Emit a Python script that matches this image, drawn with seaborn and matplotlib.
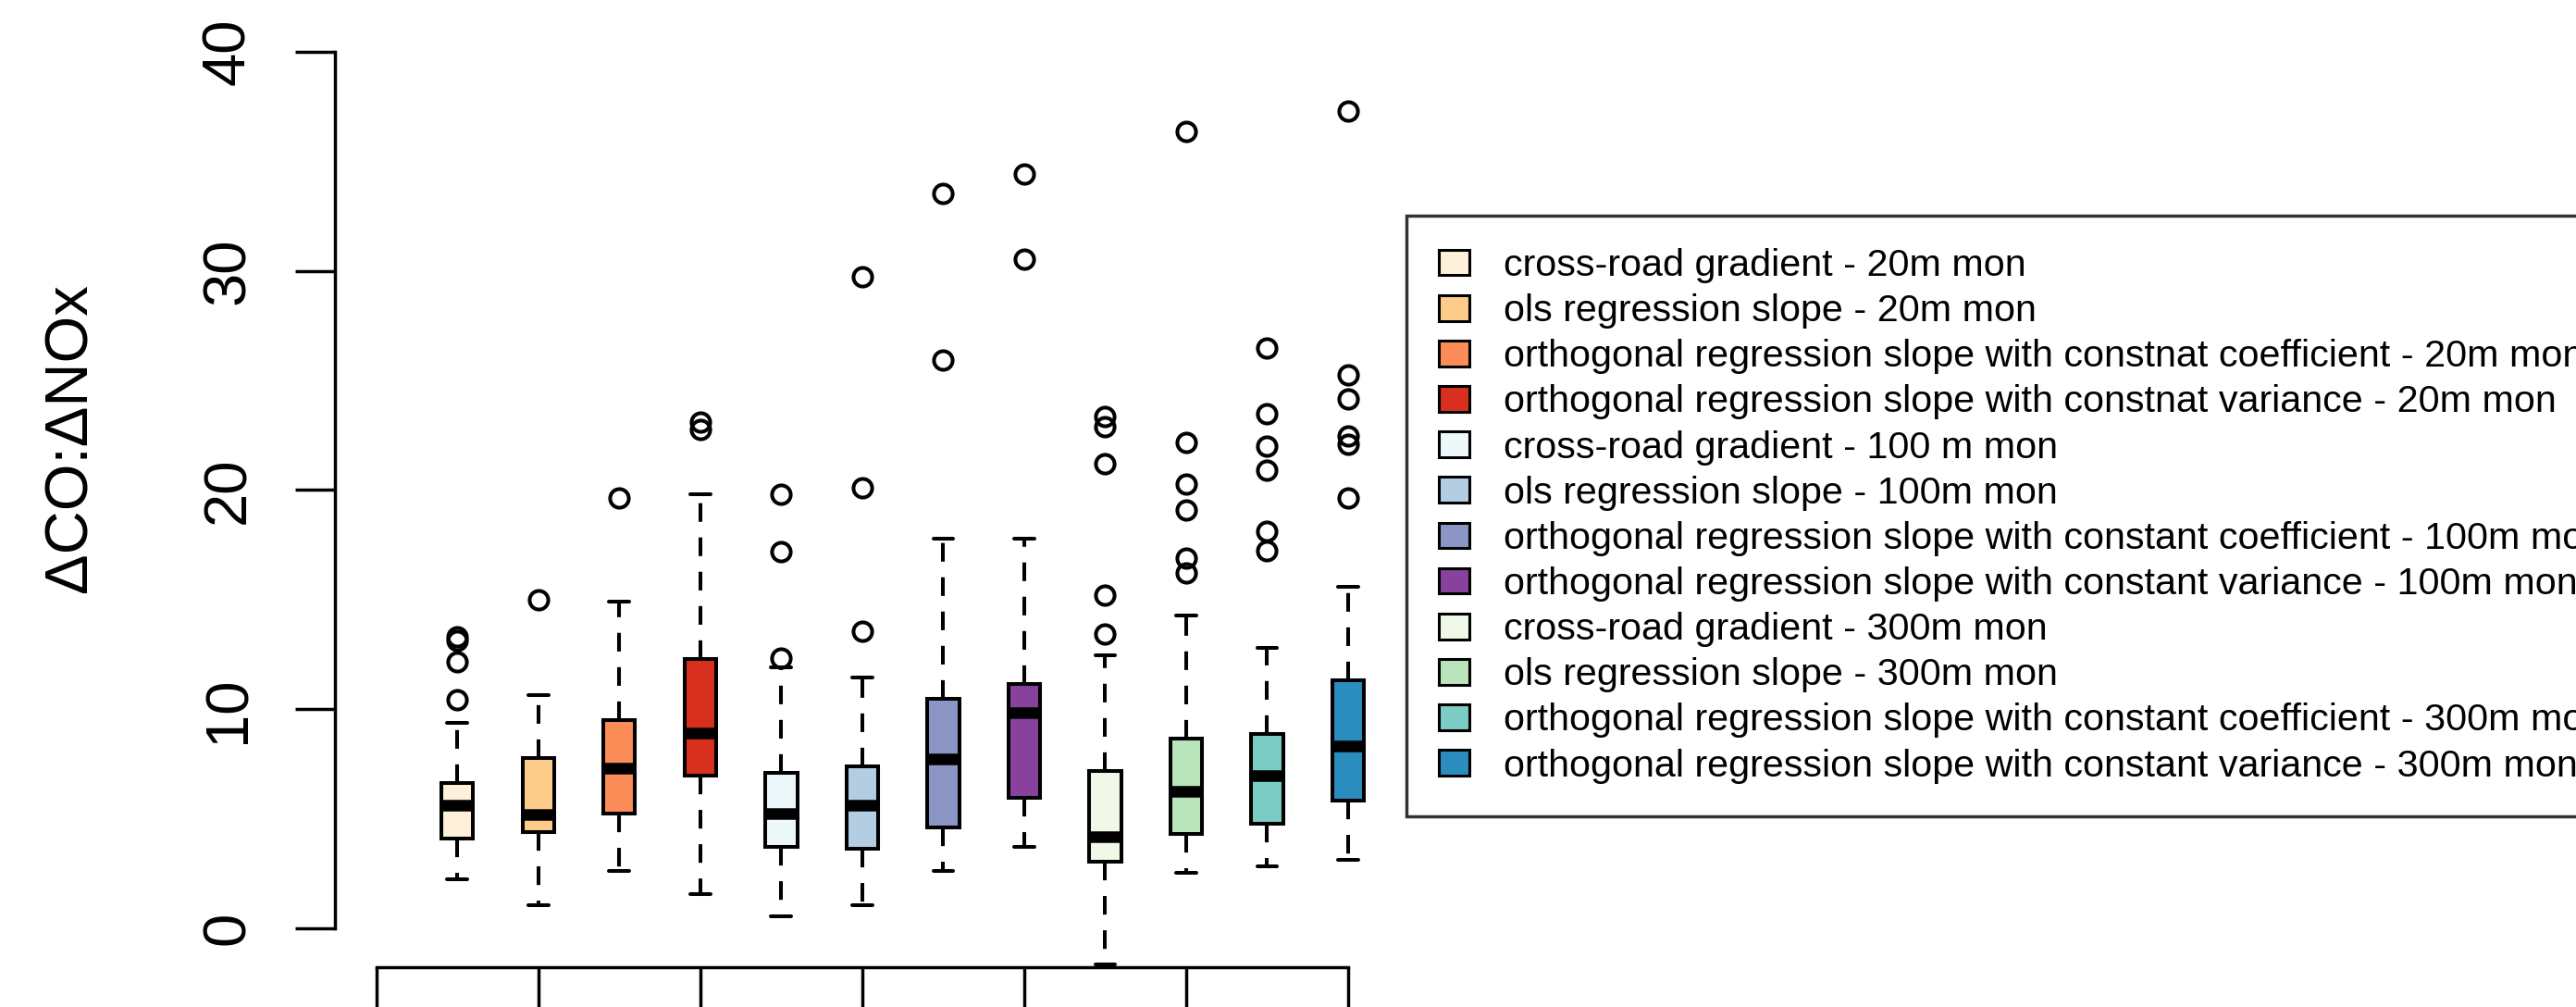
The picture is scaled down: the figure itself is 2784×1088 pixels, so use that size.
import numpy as np
import pandas as pd
import matplotlib
matplotlib.use("Agg")
import matplotlib.pyplot as plt
from matplotlib.patches import Patch
import seaborn as sns

methods = [
    "cross-road gradient - 20m mon",
    "ols regression slope - 20m mon",
    "orthogonal regression slope with constnat coefficient - 20m mon",
    "orthogonal regression slope with constnat variance - 20m mon",
    "cross-road gradient - 100 m mon",
    "ols regression slope - 100m mon",
    "orthogonal regression slope with constant coefficient - 100m mon",
    "orthogonal regression slope with constant variance - 100m mon",
    "cross-road gradient - 300m mon",
    "ols regression slope - 300m mon",
    "orthogonal regression slope with constant coefficient - 300m mon",
    "orthogonal regression slope with constant variance - 300m mon",
]
colors = ["#FEF0D9", "#FDCC8A", "#FC8D59", "#D7301F",
          "#EDF8FB", "#B3CDE3", "#8C96C6", "#88419D",
          "#F0F9E8", "#BAE4BC", "#7BCCC4", "#2B8CBE"]
positions = list(range(1, 13))

# box summaries
lower_whisker = [2.25, 1.04, 2.62, 1.55, 0.55, 1.04, 2.62, 3.73, -1.63, 2.52, 2.85, 3.14]
q1 = [4.08, 4.40, 5.26, 6.99, 3.73, 3.63, 4.62, 5.95, 3.04, 4.30, 4.77, 5.85]
median = [5.60, 5.19, 7.33, 8.92, 5.22, 5.60, 7.75, 9.85, 4.18, 6.25, 6.96, 8.34]
q3 = [6.62, 7.78, 9.51, 12.29, 7.11, 7.38, 10.49, 11.14, 7.18, 8.67, 8.86, 11.33]
upper_whisker = [9.36, 10.66, 14.93, 19.80, 11.93, 11.44, 17.80, 17.80, 12.44, 14.29, 12.81, 15.58]
outliers = [
    [10.44, 12.15, 13.15, 13.30],
    [14.99],
    [19.65],
    [22.75, 23.10],
    [12.32, 17.20, 19.80],
    [13.58, 20.10, 29.74],
    [25.93, 33.53],
    [30.53, 34.43],
    [13.45, 15.22, 21.20, 22.90, 23.37],
    [16.22, 16.90, 19.10, 20.28, 22.18, 36.35],
    [17.22, 18.13, 20.92, 22.00, 23.47, 26.50],
    [19.65, 22.09, 22.47, 24.15, 25.24, 37.27],
]

# long table for seaborn: each summary value repeated so the quartiles land on it
rows = []
for i in range(12):
    core = [lower_whisker[i], q1[i], median[i], q3[i], upper_whisker[i]]
    vals = list(np.repeat(core, 20)) + outliers[i]
    for v in vals:
        rows.append({"pos": positions[i], "method": methods[i], "value": v})
df = pd.DataFrame(rows)

sns.set_style("ticks")
plt.rcParams["font.family"] = ["Liberation Sans", "DejaVu Sans"]
for k in ["text.color", "axes.labelcolor", "xtick.color", "ytick.color", "axes.edgecolor"]:
    plt.rcParams[k] = "black"

fig = plt.figure(figsize=(27.84, 10.88), dpi=100)
ax = fig.add_axes([0.1300, 0.0395, 0.4095, 0.9462])

sns.boxplot(data=df, x="pos", y="value", hue="method", hue_order=methods,
            palette=colors, native_scale=True, dodge=False, width=0.39,
            whis=1.47, saturation=1, linecolor="black", linewidth=2.9,
            legend=False, ax=ax)

# R-like styling of the box parts
for p in ax.patches:
    p.set_edgecolor("black")
    p.set_linewidth(2.9)
for ln in ax.lines:
    if ln.get_marker() not in (None, "", "None", " "):
        ln.set_marker("o")
        ln.set_linestyle("none")
        ln.set_markerfacecolor("none")
        ln.set_markeredgecolor("black")
        ln.set_markersize(14.5)
        ln.set_markeredgewidth(2.9)
        continue
    xd = np.asarray(ln.get_xdata(), dtype=float)
    if len(xd) != 2:
        continue
    ln.set_color("black")
    if abs(xd[1] - xd[0]) < 1e-9:  # whisker
        ln.set_linewidth(2.9)
        ln.set_linestyle((0, (5.0, 4.2)))
    elif abs(xd[1] - xd[0]) > 0.3:  # median
        ln.set_linewidth(9)
        ln.set_solid_capstyle("butt")
    else:  # cap
        ln.set_linewidth(2.9)
        mid = xd.mean()
        ln.set_xdata([mid - 0.125, mid + 0.125])

ax.set_xlim(-0.514, 12.514)
ax.set_ylim(-1.77, 41.7)
ax.set_xticks([0, 2, 4, 6, 8, 10, 12])
ax.set_yticks([0, 10, 20, 30, 40])
ax.set_yticklabels(["0", "10", "20", "30", "40"], rotation=90, va="center")
ax.tick_params(axis="y", length=31, width=2.5, pad=30, labelsize=47)
ax.tick_params(axis="x", length=36, width=2.5, labelbottom=False)
ax.set_xlabel("")
ax.set_ylabel("ΔCO:ΔNOx", fontsize=47, va="center")
ax.yaxis.set_label_coords(-0.25, 0.556)

sns.despine(ax=ax)
ax.spines["left"].set_bounds(0, 40)
ax.spines["bottom"].set_bounds(0, 12)
for s in ["left", "bottom"]:
    ax.spines[s].set_linewidth(2.5)

handles = [Patch(facecolor=c, edgecolor="black", linewidth=2.2) for c in colors]
leg = fig.legend(handles, methods, loc="upper left",
                 bbox_to_anchor=(1520 / 2784, 1 - 233 / 1088),
                 fontsize=29.7, frameon=True, fancybox=False,
                 handlelength=0.8, handleheight=0.66, handletextpad=0.9,
                 labelspacing=0.27, borderpad=0.85, borderaxespad=0)
leg.get_frame().set_edgecolor("black")
leg.get_frame().set_linewidth(2.5)

fig.savefig("out.png", dpi=100)
